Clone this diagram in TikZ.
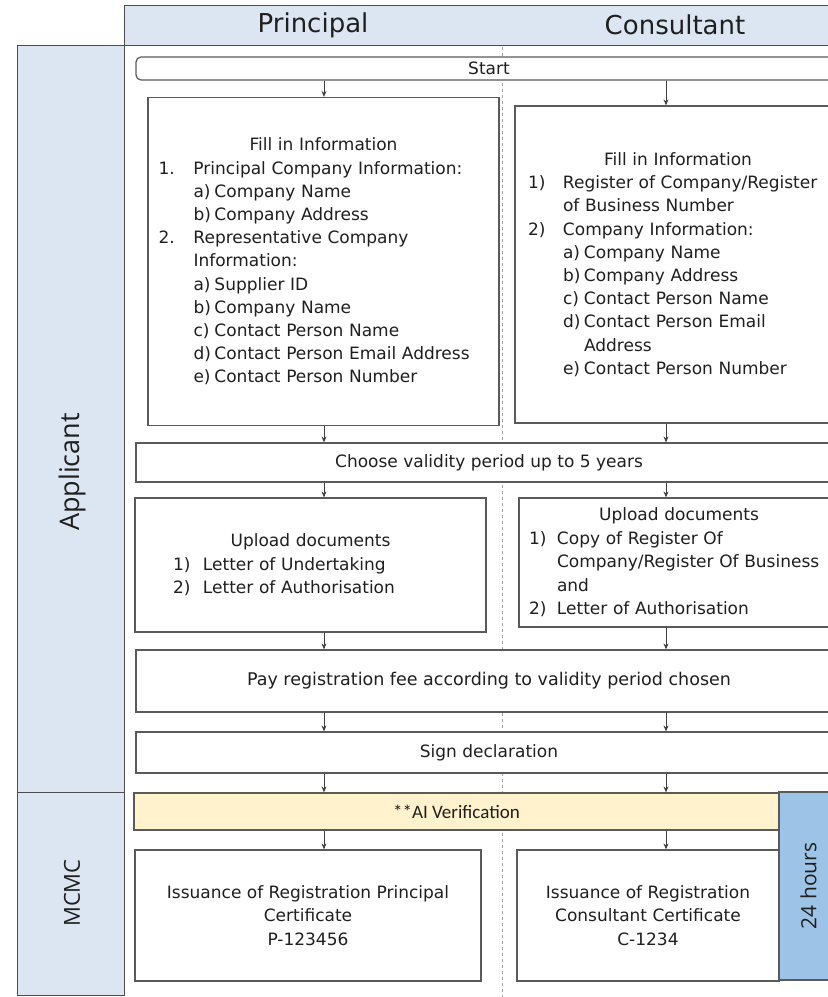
\documentclass[tikz,border=0pt]{standalone}
\usepackage{fontspec}
\setmainfont{DejaVu Sans}
\newfontfamily\labelfont{Open Sans}
\newfontfamily\calibri{Carlito}
\usetikzlibrary{arrows.meta}
\definecolor{laneblue}{HTML}{DCE6F2}
\definecolor{hourblue}{HTML}{9DC3E6}
\definecolor{aiyellow}{HTML}{FFF2CC}
\definecolor{boxline}{HTML}{5A5A5A}
\definecolor{txt}{HTML}{1F1F1F}
\newcommand{\headline}[1]{\makebox[\linewidth][c]{#1}}
\newcommand{\numline}[2]{\makebox[35pt][l]{#1}#2}
\newcommand{\subline}[2]{\hspace*{35pt}\makebox[21pt][l]{#1}#2}
\newcommand{\contline}[1]{\hspace*{35pt}#1}

\begin{document}
\begin{tikzpicture}[x=1pt,y=-1pt,
	box/.style={draw=boxline,line width=1.2pt,fill=white,inner sep=0pt,text=txt,font=\fontsize{17}{23.2}\selectfont},
	lane/.style={draw=black!70,line width=1.3pt,fill=laneblue,inner sep=0pt},
	lanetext/.style={text=txt,font=\labelfont\fontsize{27}{29}\selectfont},
	flow/.style={draw=black!75,line width=0.8pt,-{Stealth[length=6pt,width=5pt]}}]
	\useasboundingbox (0,0) rectangle (828,997);
	\clip (0,0) rectangle (828,997);
	
	% swimlanes
	\draw[dashed,gray!70] (502,5) -- (502,997);
	\node[lane,minimum width=726,minimum height=40,anchor=north west] (hdr) at (124,5) {};
	\node[lane,minimum width=107,minimum height=747,anchor=north west] (appl) at (17,45) {};
	\node[lane,minimum width=107,minimum height=203,anchor=north west] (mcmc) at (17,792) {};
	\node[text=txt,font=\fontsize{26}{28}\selectfont] (prin) at (313,25) {Principal};
	\node[text=txt,font=\fontsize{26}{28}\selectfont] (cons) at (675,25) {Consultant};
	\node[lanetext,rotate=90] (applt) at (72,472) {Applicant};
	\node[lanetext,rotate=90,font=\labelfont\fontsize{22}{24}\selectfont] (mcmct) at (72,893) {MCMC};
	
	\coordinate (pcol) at (324,0);
	\coordinate (ccol) at (666,0);
	
	% applicant steps
	\node[box,rounded corners=5pt,minimum width=706,minimum height=23] (start) at (489,68.5) {Start};
	\node[box,minimum width=351,minimum height=328,text width=330,align=left] (pfill) at (323.5,261.5) {%
		\headline{Fill in Information}\\
		\numline{1.}{Principal Company Information:}\\
		\subline{a)}{Company Name}\\
		\subline{b)}{Company Address}\\
		\numline{2.}{Representative Company}\\
		\contline{Information:}\\
		\subline{a)}{Supplier ID}\\
		\subline{b)}{Company Name}\\
		\subline{c)}{Contact Person Name}\\
		\subline{d)}{Contact Person Email Address}\\
		\subline{e)}{Contact Person Number}};
	\node[box,minimum width=326,minimum height=317,text width=300,align=left] (cfill) at (678,264.5) {%
		\headline{Fill in Information}\\
		\numline{1)}{Register of Company/Register}\\
		\contline{of Business Number}\\
		\numline{2)}{Company Information:}\\
		\subline{a)}{Company Name}\\
		\subline{b)}{Company Address}\\
		\subline{c)}{Contact Person Name}\\
		\subline{d)}{Contact Person Email}\\
		\contline{\hspace*{21pt}Address}\\
		\subline{e)}{Contact Person Number}};
	\node[box,minimum width=706,minimum height=39] (choose) at (489,462.5) {Choose validity period up to 5 years};
	\node[box,minimum width=351,minimum height=134,text width=275,align=left,font=\fontsize{17}{23.5}\selectfont] (pup) at (310.5,565) {%
		\headline{Upload documents}\\
		\makebox[30pt][l]{1)}Letter of Undertaking\\
		\makebox[30pt][l]{2)}Letter of Authorisation};
	\node[box,minimum width=320,minimum height=129,text width=300,align=left,font=\fontsize{17}{23.5}\selectfont] (cup) at (679,562.5) {%
		\headline{Upload documents}\\
		\makebox[28pt][l]{1)}Copy of Register Of\\
		\hspace*{28pt}Company/Register Of Business\\
		\hspace*{28pt}and\\
		\makebox[28pt][l]{2)}Letter of Authorisation};
	\node[box,minimum width=706,minimum height=62,font=\fontsize{17.5}{23.2}\selectfont] (pay) at (489,681) {Pay registration fee according to validity period chosen};
	\node[box,minimum width=706,minimum height=41] (sign) at (489,752.5) {Sign declaration};
	
	% MCMC steps
	\node[box,fill=aiyellow,minimum width=645,minimum height=37,font=\calibri\fontsize{19}{21}\selectfont] (ai) at (456.5,811.5) {**AI Verification};
	\node[box,fill=hourblue,minimum width=59,minimum height=188] (hours) at (808.5,886) {};
	\node[lanetext,rotate=90,font=\labelfont\fontsize{21}{23}\selectfont] (hourst) at (hours.center) {24 hours};
	\node[box,minimum width=346,minimum height=131,align=center] (piss) at (308,915.5) {Issuance of Registration Principal\\Certificate\\P-123456};
	\node[box,minimum width=262,minimum height=131,align=center] (ciss) at (648,915.5) {Issuance of Registration\\Consultant Certificate\\C-1234};
	
	% connectors
	\foreach \a/\b in {start/pfill,pfill/choose,choose/pup,pup/pay,pay/sign,sign/ai,ai/piss}
		\draw[flow] (\a.south -| pcol) -- (\b.north -| pcol);
	\foreach \a/\b in {start/cfill,cfill/choose,choose/cup,cup/pay,pay/sign,sign/ai,ai/ciss}
		\draw[flow] (\a.south -| ccol) -- (\b.north -| ccol);
\end{tikzpicture}
\end{document}
